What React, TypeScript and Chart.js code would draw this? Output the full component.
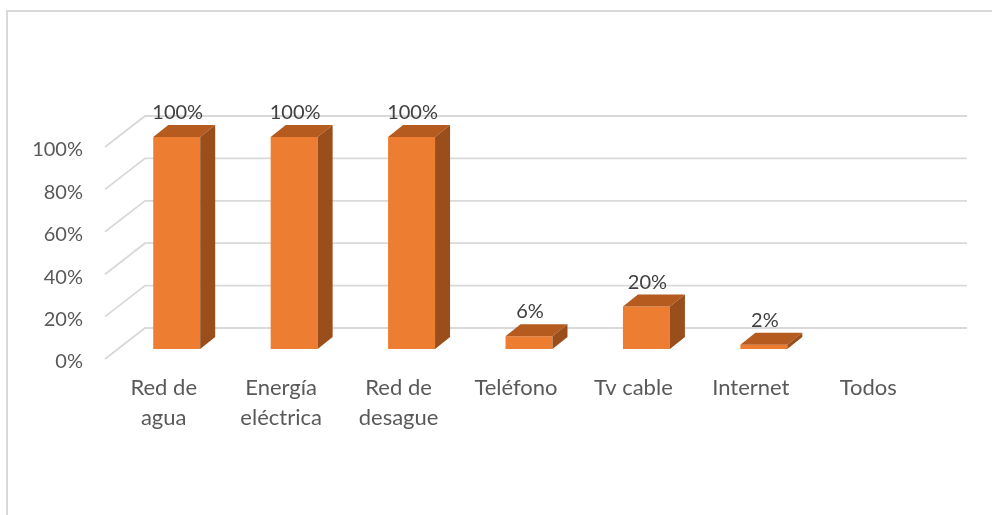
import React, { useEffect, useRef } from "react";
import { Chart, registerables } from "chart.js";

Chart.register(...registerables);

const categories: string[][] = [
  ["Red de", "agua"],
  ["Energía", "eléctrica"],
  ["Red de", "desague"],
  ["Teléfono"],
  ["Tv cable"],
  ["Internet"],
  ["Todos"],
];
const values: number[] = [1.0, 1.0, 1.0, 0.06, 0.2, 0.02, 0];
const yTicks: number[] = [0, 0.2, 0.4, 0.6, 0.8, 1.0];

const FONT = "Lato, 'Open Sans', sans-serif";
const GRID = "#D9D9D9";
const FRONT = "#ED7D31";
const TOP = "#B65B20";
const SIDE = "#9A4E1C";

// 3D offsets
const WALL_DX = 40;
const WALL_DY = -31;
const BAR_DX = 13;
const BAR_DY = -10;
const DEPTH_DX = 15;
const DEPTH_DY = -12;

const fmt = (v: number) => `${Math.round(v * 100)}%`;

const plugin3d = {
  id: "plugin3d",
  beforeDraw(chart: any) {
    const { ctx, width, height } = chart;
    ctx.save();
    ctx.fillStyle = "#ffffff";
    ctx.fillRect(0, 0, width, height);
    ctx.strokeStyle = GRID;
    ctx.lineWidth = 2;
    ctx.beginPath();
    ctx.moveTo(7, height);
    ctx.lineTo(7, 11);
    ctx.lineTo(width, 11);
    ctx.stroke();
    ctx.restore();
  },
  beforeDatasetsDraw(chart: any) {
    const { ctx, chartArea } = chart;
    const y = chart.scales.y;
    ctx.save();
    ctx.strokeStyle = GRID;
    ctx.lineWidth = 1.8;
    for (const t of yTicks) {
      const py = y.getPixelForValue(t);
      ctx.beginPath();
      ctx.moveTo(chartArea.left, py);
      ctx.lineTo(chartArea.left + WALL_DX, py + WALL_DY);
      ctx.lineTo(chartArea.right + WALL_DX, py + WALL_DY);
      ctx.stroke();
    }
    ctx.restore();
    ctx.save();
    ctx.translate(BAR_DX, BAR_DY);
  },
  afterDatasetsDraw(chart: any) {
    const { ctx } = chart;
    const meta = chart.getDatasetMeta(0);
    meta.data.forEach((bar: any, i: number) => {
      const v = values[i];
      if (!v) return;
      const { x, y, base, width } = bar.getProps(["x", "y", "base", "width"], true);
      const l = x - width / 2;
      const r = x + width / 2;
      // top face
      ctx.fillStyle = TOP;
      ctx.beginPath();
      ctx.moveTo(l, y);
      ctx.lineTo(l + DEPTH_DX, y + DEPTH_DY);
      ctx.lineTo(r + DEPTH_DX, y + DEPTH_DY);
      ctx.lineTo(r, y);
      ctx.closePath();
      ctx.fill();
      // side face
      ctx.fillStyle = SIDE;
      ctx.beginPath();
      ctx.moveTo(r, y);
      ctx.lineTo(r + DEPTH_DX, y + DEPTH_DY);
      ctx.lineTo(r + DEPTH_DX, base + DEPTH_DY);
      ctx.lineTo(r, base);
      ctx.closePath();
      ctx.fill();
      // label
      ctx.fillStyle = "#404040";
      ctx.font = `20px ${FONT}`;
      ctx.textAlign = "center";
      ctx.textBaseline = "alphabetic";
      ctx.fillText(fmt(v), x + 1, y + DEPTH_DY - 6);
    });
    ctx.restore();
  },
};

export default function App() {
  const ref = useRef<HTMLCanvasElement | null>(null);
  useEffect(() => {
    if (!ref.current) return;
    const chart = new Chart(ref.current, {
      type: "bar",
      data: {
        labels: categories,
        datasets: [
          {
            data: values,
            backgroundColor: FRONT,
            borderWidth: 0,
            categoryPercentage: 1,
            barPercentage: 0.4,
            clip: false as any,
          },
        ],
      },
      options: {
        animation: false,
        responsive: false,
        maintainAspectRatio: false,
        layout: { padding: { top: 147, right: 65, bottom: 0, left: 0 } },
        plugins: { legend: { display: false }, tooltip: { enabled: false } },
        scales: {
          x: {
            grid: { display: false, drawTicks: false },
            border: { display: false },
            ticks: {
              color: "#595959",
              font: { family: FONT, size: 22, lineHeight: 1.36 },
              padding: 14,
              maxRotation: 0,
              autoSkip: false,
            },
            afterFit: (s: any) => {
              s.height = 156;
            },
          },
          y: {
            min: 0,
            max: 1,
            grid: { display: false, drawTicks: false },
            border: { display: false },
            ticks: {
              stepSize: 0.2,
              color: "#595959",
              font: { family: FONT, size: 20 },
              padding: 22,
              labelOffset: 3,
              callback: (v: any) => fmt(Number(v)),
            },
            afterFit: (s: any) => {
              s.width = 105;
            },
          },
        },
      },
      plugins: [plugin3d],
    });
    return () => chart.destroy();
  }, []);
  return (
    <div style={{ position: "fixed", left: 0, top: 0, width: 992, height: 515, background: "#fff" }}>
      <canvas ref={ref} width={992} height={515} style={{ display: "block" }} />
    </div>
  );
}
